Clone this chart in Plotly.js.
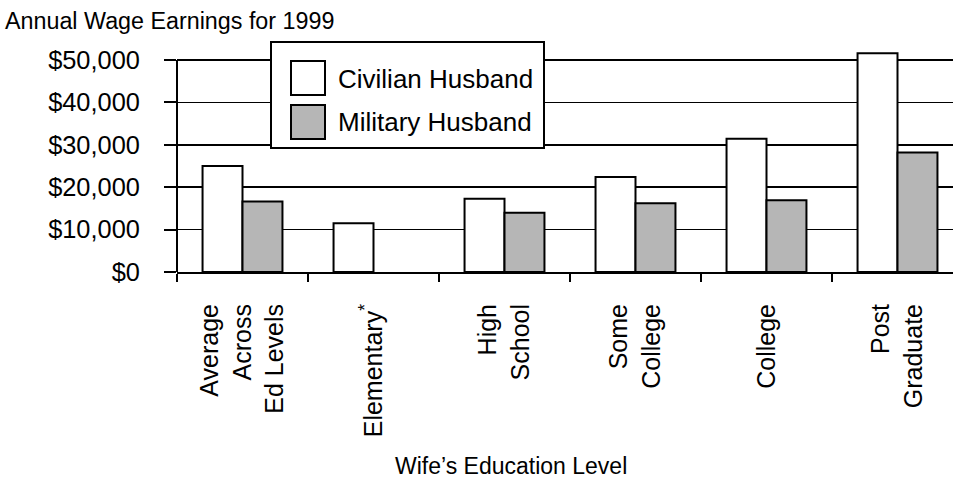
<!DOCTYPE html>
<html>
<head>
<meta charset="utf-8">
<script src="https://cdn.plot.ly/plotly-3.0.1.min.js"></script>
<style>
html,body{margin:0;padding:0;background:#fff;}
#chart{width:953px;height:481px;}
</style>
</head>
<body>
<div id="chart"></div>
<script>
const categories = ['Average<br>Across<br>Ed Levels', 'Elementary<sup>*</sup>', 'High<br>School', 'Some<br>College', 'College', 'Post<br>Graduate'];
const seriesNames = ['Civilian Husband', 'Military Husband'];
const civilian = [25000, 11500, 17300, 22400, 31400, 51600];
const military = [16600, null, 14000, 16200, 16900, 28200];
const yTickVals = [0, 10000, 20000, 30000, 40000, 50000];
const yTickText = ['$0', '$10,000', '$20,000', '$30,000', '$40,000', '$50,000'];
const yAxisMax = 50000;
const chartTitle = 'Annual Wage Earnings for 1999';
const xTitle = "Wife\u2019s Education Level";

const FONT = '"Liberation Sans", Arial, Helvetica, sans-serif';
const GRAY = '#b6b6b6';

const traces = [
  {type: 'bar', name: seriesNames[0], x: categories, y: civilian,
   marker: {color: '#ffffff', line: {color: '#000', width: 2}}, showlegend: false, hoverinfo: 'y'},
  {type: 'bar', name: seriesNames[1], x: categories, y: military,
   marker: {color: GRAY, line: {color: '#000', width: 2}}, showlegend: false, hoverinfo: 'y'}
];

// Plot-area pixel geometry (the axis maximum sits at y=60, zero at y=272)
const L = 177, R = 953, T = 44, B = 272, YMAXPX = 60;
const topRange = yAxisMax * (B - T) / (B - YMAXPX);
const px = v => (v - L) / (R - L);
const py = v => (B - v) / (B - T);

const layout = {
  width: 953, height: 481,
  paper_bgcolor: '#fff', plot_bgcolor: 'rgba(0,0,0,0)',
  font: {family: FONT, color: '#000'},
  margin: {l: L, r: 953 - R, t: T, b: 481 - B, pad: 0},
  barmode: 'group', bargap: 0.39, bargroupgap: 0,
  title: {text: chartTitle, x: 5/953, xanchor: 'left', xref: 'container',
          y: 1 - 21/481, yanchor: 'middle', yref: 'container', font: {size: 23.3, family: FONT, color: '#000'}},
  xaxis: {
    type: 'category', range: [-0.5, 5.5 - 10/131], tickson: 'boundaries',
    ticks: 'outside', ticklen: 8, tickwidth: 2, tickcolor: '#000',
    showline: true, linecolor: '#000', linewidth: 2, showgrid: false, zeroline: false,
    tickangle: -90, tickfont: {size: 25, family: FONT, color: '#000'}, ticklabelstandoff: 20,
    fixedrange: true
  },
  yaxis: {
    range: [0, topRange], tickvals: yTickVals, ticktext: yTickText,
    ticks: 'outside', ticklen: 12, tickwidth: 2, tickcolor: '#000',
    showline: false,
    showgrid: true, gridcolor: '#000', gridwidth: 1.6, zeroline: false,
    tickfont: {size: 25.4, family: FONT, color: '#000'}, ticklabelstandoff: 19,
    fixedrange: true
  },
  shapes: [
    // top gridline shown dotted
    {type: 'line', layer: 'between', xref: 'paper', yref: 'y', x0: 0, x1: 1, y0: yAxisMax, y1: yAxisMax,
     line: {color: '#fff', width: 3}},
    {type: 'line', layer: 'between', xref: 'paper', yref: 'y', x0: 0, x1: 1, y0: yAxisMax, y1: yAxisMax,
     line: {color: '#555', width: 1.5, dash: 'dot'}},
    // vertical axis line from 0 up to the axis maximum
    {type: 'line', layer: 'above', xref: 'paper', yref: 'y', x0: 0, x1: 0, y0: 0, y1: yAxisMax,
     line: {color: '#000', width: 2}},
    // legend box
    {type: 'rect', layer: 'above', xref: 'paper', yref: 'paper', x0: px(271), x1: px(544), y0: py(148), y1: py(42),
     fillcolor: '#fff', line: {color: '#000', width: 2}},
    {type: 'rect', layer: 'above', xref: 'paper', yref: 'paper', x0: px(291), x1: px(325), y0: py(95), y1: py(61),
     fillcolor: '#fff', line: {color: '#000', width: 2}},
    {type: 'rect', layer: 'above', xref: 'paper', yref: 'paper', x0: px(291), x1: px(325), y0: py(139), y1: py(105),
     fillcolor: GRAY, line: {color: '#000', width: 2}}
  ],
  annotations: [
    {text: seriesNames[0], xref: 'paper', yref: 'paper', x: px(336), y: py(79), xanchor: 'left', yanchor: 'middle',
     showarrow: false, font: {size: 26, family: FONT, color: '#000'}},
    {text: seriesNames[1], xref: 'paper', yref: 'paper', x: px(336), y: py(122), xanchor: 'left', yanchor: 'middle',
     showarrow: false, font: {size: 26, family: FONT, color: '#000'}},
    {text: xTitle, xref: 'paper', yref: 'paper', x: px(511), y: py(466), xanchor: 'center', yanchor: 'middle',
     showarrow: false, font: {size: 23, family: FONT, color: '#000'}}
  ]
};

Plotly.newPlot('chart', traces, layout, {displayModeBar: false, staticPlot: true});
</script>
</body>
</html>
